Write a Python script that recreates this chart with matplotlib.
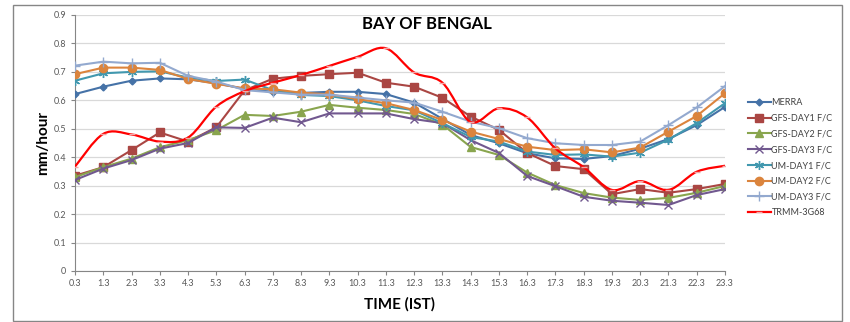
import matplotlib
matplotlib.use("Agg")
import matplotlib.pyplot as plt
import numpy as np
from matplotlib.path import Path
from matplotlib.patches import PathPatch, Rectangle
from matplotlib.lines import Line2D

plt.rcParams['font.family'] = ['Lato', 'DejaVu Sans']

times = ['0.3', '1.3', '2.3', '3.3', '4.3', '5.3', '6.3', '7.3', '8.3', '9.3', '10.3', '11.3',
         '12.3', '13.3', '14.3', '15.3', '16.3', '17.3', '18.3', '19.3', '20.3', '21.3', '22.3', '23.3']

merra = [0.622, 0.648, 0.669, 0.677, 0.674, 0.660, 0.640, 0.630, 0.626, 0.630, 0.630, 0.622,
         0.592, 0.535, 0.478, 0.449, 0.414, 0.396, 0.394, 0.404, 0.430, 0.464, 0.513, 0.577]
gfs1 = [0.335, 0.365, 0.425, 0.487, 0.455, 0.505, 0.635, 0.676, 0.686, 0.692, 0.697, 0.662,
        0.648, 0.609, 0.543, 0.496, 0.415, 0.369, 0.358, 0.270, 0.288, 0.275, 0.288, 0.306]
gfs2 = [0.330, 0.365, 0.395, 0.435, 0.460, 0.495, 0.549, 0.545, 0.560, 0.584, 0.574, 0.566,
        0.552, 0.515, 0.436, 0.408, 0.346, 0.302, 0.274, 0.258, 0.250, 0.257, 0.275, 0.299]
gfs3 = [0.320, 0.360, 0.390, 0.430, 0.450, 0.505, 0.503, 0.539, 0.523, 0.554, 0.554, 0.554,
        0.534, 0.520, 0.460, 0.415, 0.334, 0.298, 0.261, 0.247, 0.240, 0.232, 0.267, 0.288]
um1 = [0.669, 0.695, 0.700, 0.702, 0.680, 0.668, 0.673, 0.636, 0.619, 0.615, 0.600, 0.580,
       0.565, 0.520, 0.471, 0.455, 0.420, 0.408, 0.410, 0.402, 0.416, 0.462, 0.520, 0.590]
um2 = [0.692, 0.715, 0.715, 0.707, 0.675, 0.658, 0.642, 0.639, 0.627, 0.621, 0.604, 0.590,
       0.566, 0.531, 0.490, 0.464, 0.437, 0.425, 0.428, 0.417, 0.434, 0.490, 0.545, 0.625]
um3 = [0.722, 0.736, 0.730, 0.732, 0.686, 0.666, 0.636, 0.628, 0.620, 0.620, 0.610, 0.600,
       0.592, 0.560, 0.525, 0.502, 0.467, 0.449, 0.443, 0.443, 0.455, 0.513, 0.575, 0.650]
trmm = [0.367, 0.482, 0.480, 0.455, 0.469, 0.578, 0.632, 0.662, 0.689, 0.721, 0.753, 0.783,
        0.698, 0.662, 0.524, 0.572, 0.540, 0.431, 0.365, 0.285, 0.316, 0.285, 0.349, 0.370]

series = [
    ('MERRA', merra, '#4572A7', 'D', 3.5),
    ('GFS-DAY1 F/C', gfs1, '#AA4643', 's', 5.5),
    ('GFS-DAY2 F/C', gfs2, '#89A54E', '^', 5.5),
    ('GFS-DAY3 F/C', gfs3, '#71588F', 'x', 5.5),
    ('UM-DAY1 F/C', um1, '#4198AF', (6, 2, 0), 6.5),
    ('UM-DAY2 F/C', um2, '#DB843D', 'o', 6),
    ('UM-DAY3 F/C', um3, '#93A9CF', '+', 7),
]

fig = plt.figure(figsize=(8.5, 3.22), dpi=100)
ax = fig.add_axes([75/850, 1-271/322, 650/850, 256/322])

x = np.arange(len(times))
handles = []
for name, vals, col, mk, ms in series:
    ln, = ax.plot(x, vals, color=col, lw=1.5, marker=mk, markersize=ms,
                  markerfacecolor=col, markeredgecolor=col, markeredgewidth=1.0,
                  label=name, zorder=3)
    handles.append(ln)

# smoothed TRMM line (Catmull-Rom bezier through the data points)
ty = np.asarray(trmm)
verts = [(x[0], ty[0])]
codes = [Path.MOVETO]
n = len(x)
for i in range(n - 1):
    p0 = np.array([x[max(i-1, 0)], ty[max(i-1, 0)]])
    p1 = np.array([x[i], ty[i]])
    p2 = np.array([x[i+1], ty[i+1]])
    p3 = np.array([x[min(i+2, n-1)], ty[min(i+2, n-1)]])
    c1 = p1 + (p2 - p0) / 6.0
    c2 = p2 - (p3 - p1) / 6.0
    verts += [tuple(c1), tuple(c2), tuple(p2)]
    codes += [Path.CURVE4] * 3
patch = PathPatch(Path(verts, codes), facecolor='none', edgecolor='#FF0000', lw=1.6, zorder=4)
ax.add_patch(patch)
ax.plot(x, trmm, linestyle='none', marker='_', markersize=4, color='#F4A6A6', zorder=5)
handles.append(Line2D([0], [0], color='#FF0000', lw=1.6, marker='_', markersize=4,
                      markeredgecolor='#F4A6A6'))

ax.set_xlim(0, 23)
ax.set_ylim(0, 0.9)
ax.set_xticks(x)
ax.set_xticklabels(times)
yt = np.round(np.arange(0, 0.91, 0.1), 1)
ax.set_yticks(yt)
ax.set_yticklabels(['0'] + [f'{v:.1f}' for v in yt[1:]])
ax.tick_params(axis='both', labelsize=6.5, colors='#868686', labelcolor='#595959', length=3, width=0.8)
ax.tick_params(axis='x', pad=3)
ax.grid(axis='y', color='#D9D9D9', lw=0.9, zorder=0)
ax.set_axisbelow(True)
for s in ['top', 'right']:
    ax.spines[s].set_visible(False)
for s in ['left', 'bottom']:
    ax.spines[s].set_color('#868686')
    ax.spines[s].set_linewidth(0.8)

ax.set_ylabel('mm/hour', fontsize=11, fontweight='bold', labelpad=2)
ax.set_xlabel('TIME (IST)', fontsize=11, fontweight='bold', labelpad=6)
fig.text(427/850, 1-24/322, 'BAY OF BENGAL', fontsize=12, fontweight='bold',
         ha='center', va='center')

leg = fig.legend(handles, [s[0] for s in series] + ['TRMM-3G68'],
                 loc='upper left', bbox_to_anchor=(748/850, 1-98/322),
                 frameon=False, fontsize=6.5, handlelength=2.5, handletextpad=0.1,
                 labelspacing=0.75, borderaxespad=0, borderpad=0)
for t in leg.get_texts():
    t.set_color('#404040')

fig.patches.append(Rectangle((13/850, 1-321/322), 829/850, 316/322, transform=fig.transFigure,
                             fill=False, edgecolor='#868686', lw=1.0))

fig.savefig('out.png', dpi=100)
